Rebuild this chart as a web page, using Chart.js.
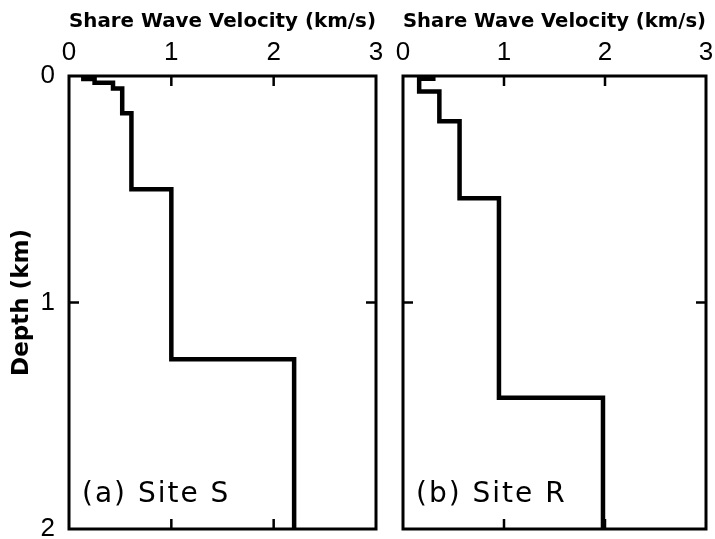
<!DOCTYPE html>
<html>
<head>
<meta charset="utf-8">
<script src="https://cdn.jsdelivr.net/npm/chart.js@4/dist/chart.umd.min.js"></script>
<style>
  html, body { margin: 0; padding: 0; background: #fff; }
  #wrap { position: relative; width: 715px; height: 539px; }
  canvas { position: absolute; left: 0; top: 0; }
</style>
</head>
<body>
<div id="wrap">
  <canvas id="cA" width="715" height="539"></canvas>
  <canvas id="cB" width="715" height="539"></canvas>
</div>
<script>
// ---- data ----
const xTicks = [0, 1, 2, 3];
const yTicks = [0, 1, 2];
const xTitle = 'Share Wave Velocity (km/s)';
const yTitle = 'Depth (km)';

// Site S: layer velocities (km/s) and layer boundaries (km)
const siteS_velocity = [0.14, 0.25, 0.43, 0.52, 0.61, 1.0, 2.2];
const siteS_boundary = [0, 0.013, 0.03, 0.055, 0.165, 0.5, 1.25, 2.0];
const siteS_label = '(a) Site S';

// Site R
const siteR_velocity = [0.3, 0.16, 0.36, 0.56, 0.95, 1.98];
const siteR_boundary = [0, 0.012, 0.068, 0.2, 0.54, 1.42, 2.0];
const siteR_label = '(b) Site R';

function profile(vel, bnd) {
  const pts = [];
  for (let i = 0; i < vel.length; i++) {
    pts.push({x: vel[i], y: bnd[i]});
    pts.push({x: vel[i], y: bnd[i + 1]});
  }
  return pts;
}

const framePlugin = {
  id: 'frame',
  afterDraw(chart, args, opts) {
    const ctx = chart.ctx, a = chart.chartArea;
    const xs = chart.scales.x, ys = chart.scales.y;
    ctx.save();
    ctx.strokeStyle = '#000';
    ctx.lineWidth = 3;
    ctx.strokeRect(a.left, a.top, a.right - a.left, a.bottom - a.top);
    ctx.lineWidth = 2.5;
    ctx.beginPath();
    [1, 2].forEach(v => {
      const px = xs.getPixelForValue(v);
      ctx.moveTo(px, a.top); ctx.lineTo(px, a.top + 10);
      ctx.moveTo(px, a.bottom); ctx.lineTo(px, a.bottom - 10);
    });
    [1].forEach(v => {
      const py = ys.getPixelForValue(v);
      ctx.moveTo(a.left, py); ctx.lineTo(a.left + 10, py);
      ctx.moveTo(a.right, py); ctx.lineTo(a.right - 10, py);
    });
    ctx.stroke();
    ctx.fillStyle = '#000';
    ctx.font = '28px "DejaVu Sans", sans-serif';
    try { ctx.letterSpacing = '2px'; } catch (e) {}
    ctx.textBaseline = 'alphabetic';
    ctx.textAlign = 'left';
    ctx.fillText(opts.label, a.left + 13, a.bottom - 27);
    ctx.restore();
  }
};

function makeChart(id, vel, bnd, label, pad, showY) {
  return new Chart(document.getElementById(id), {
    type: 'scatter',
    data: {
      datasets: [{
        data: profile(vel, bnd),
        showLine: true,
        borderColor: '#000',
        borderWidth: 4.5,
        pointRadius: 0,
        tension: 0,
        borderJoinStyle: 'miter',
        borderCapStyle: 'square'
      }]
    },
    options: {
      responsive: false,
      animation: false,
      devicePixelRatio: 1,
      layout: { padding: pad },
      plugins: {
        legend: { display: false },
        tooltip: { enabled: false },
        frame: { label: label }
      },
      scales: {
        x: {
          type: 'linear',
          position: 'top',
          min: 0, max: 3,
          afterBuildTicks: s => { s.ticks = xTicks.map(v => ({value: v})); },
          afterFit: s => { s.height = 76; s.paddingLeft = 0; s.paddingRight = 0; },
          grid: { display: false, drawTicks: false },
          border: { display: false },
          ticks: {
            color: '#000',
            padding: 8,
            maxRotation: 0,
            font: { family: '"Liberation Sans", Arial, sans-serif', size: 26 }
          },
          title: {
            display: true,
            text: xTitle,
            color: '#000',
            padding: { top: 10, bottom: 0 },
            font: { family: '"DejaVu Sans", sans-serif', size: 20, weight: 'bold' }
          }
        },
        y: {
          type: 'linear',
          reverse: true,
          min: 0, max: 2,
          afterBuildTicks: s => { s.ticks = yTicks.map(v => ({value: v})); },
          afterFit: s => { s.width = showY ? 69 : 0; s.paddingTop = 0; s.paddingBottom = 0; },
          grid: { display: false, drawTicks: false },
          border: { display: false },
          ticks: {
            display: showY,
            color: '#000',
            padding: 14,
            font: { family: '"Liberation Sans", Arial, sans-serif', size: 26 }
          },
          title: {
            display: showY,
            text: yTitle,
            color: '#000',
            padding: { top: 8, bottom: 0 },
            font: { family: '"DejaVu Sans", sans-serif', size: 23, weight: 'bold' }
          }
        }
      }
    },
    plugins: [framePlugin]
  });
}

makeChart('cA', siteS_velocity, siteS_boundary, siteS_label,
  { left: 0, right: 339, top: 0, bottom: 10 }, true);
makeChart('cB', siteR_velocity, siteR_boundary, siteR_label,
  { left: 403, right: 9, top: 0, bottom: 10 }, false);
</script>
</body>
</html>
